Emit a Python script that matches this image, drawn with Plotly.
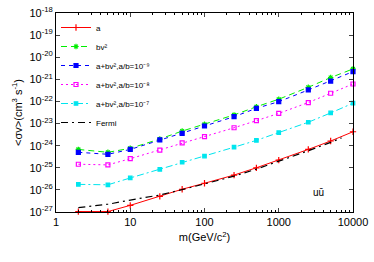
import plotly.graph_objects as go

mass = [2, 5, 10, 25, 50, 100, 250, 500, 1000, 2500, 5000, 10000]
sv_a = [-26.98, -26.98, -26.7, -26.29, -25.97, -25.70, -25.33, -25.0, -24.65, -24.17, -23.79, -23.37]
sv_bv2 = [-24.17, -24.30, -24.12, -23.70, -23.34, -23.03, -22.61, -22.24, -21.90, -21.36, -20.92, -20.53]
sv_e9 = [-24.30, -24.39, -24.17, -23.74, -23.44, -23.11, -22.69, -22.31, -22.01, -21.48, -21.08, -20.65]
sv_e8 = [-24.84, -24.87, -24.59, -24.20, -23.87, -23.59, -23.19, -22.87, -22.54, -22.05, -21.63, -21.21]
sv_e7 = [-25.75, -25.77, -25.46, -25.07, -24.75, -24.47, -24.07, -23.76, -23.41, -22.94, -22.52, -22.08]
fermi_mass = [2, 5, 10, 25, 50, 100, 250, 500, 1000, 2500, 5000, 7000]
sv_fermi = [-26.8, -26.65, -26.46, -26.23, -25.99, -25.73, -25.38, -25.06, -24.71, -24.23, -23.85, -23.65]

x_ticks = [1, 10, 100, 1000, 10000]
x_labels = ["1", "10", "100", "1000", "10000"]
y_exps = list(range(-27, -17))

FONT = "Liberation Sans, Arial, sans-serif"

def pw(v):
    return [10 ** e for e in v]

series = [
    ("a", mass, sv_a, "#ff0000", "solid", "cross-thin-open", 4.5, 1),
    ("bv²", mass, sv_bv2, "#00ee00", "6px,4px", "asterisk-open", 4.5, 1),
    ("a+bv²,a/b=10⁻⁹", mass, sv_e9, "#0000ff", "4px,4px", "square", 4, 1),
    ("a+bv²,a/b=10⁻⁸", mass, sv_e8, "#ff00ff", "2px,3px", "square-open", 4, 1),
    ("a+bv²,a/b=10⁻⁷", mass, sv_e7, "#00e5ee", "7px,3px,2px,3px", "square", 3.5, 1),
]

fig = go.Figure()
for name, xs, ys, col, dash, sym, ms, lw in series:
    fig.add_trace(go.Scatter(
        x=xs, y=pw(ys), name=name, mode="lines+markers", cliponaxis=False,
        line=dict(color=col, dash=dash, width=lw),
        marker=dict(symbol=sym, size=ms, color=col, line=dict(color=col, width=1.2)),
    ))
fig.add_trace(go.Scatter(
    x=fermi_mass, y=pw(sv_fermi), name="Fermi", mode="lines",
    line=dict(color="#000000", dash="7px,4px,2px,4px", width=1.2),
))

fig.add_annotation(x=3.54, y=-26.1, xref="x", yref="y", text="uū", showarrow=False,
                   font=dict(size=10, color="#000", family=FONT))

fig.update_layout(
    width=374, height=262,
    margin=dict(l=56, r=21, t=13, b=50),
    paper_bgcolor="white", plot_bgcolor="white",
    font=dict(family=FONT, size=11, color="#000"),
    showlegend=True,
    legend=dict(x=0.0, y=1.0, xanchor="left", yanchor="top",
                bgcolor="rgba(0,0,0,0)", font=dict(size=8, family=FONT),
                itemwidth=30, tracegroupgap=0, borderwidth=0),
    xaxis=dict(type="log", range=[0, 4], tickvals=x_ticks, ticktext=x_labels,
               ticks="inside", ticklen=4, mirror="allticks", showline=True, automargin=False,
               linecolor="#000", linewidth=1, showgrid=False, zeroline=False,
               minor=dict(ticks="inside", ticklen=2, showgrid=False, dtick="D1", tickcolor="#000"),
               tickfont=dict(size=11),
               title=dict(text="m(GeV/c<sup>2</sup>)", font=dict(size=11), standoff=6)),
    yaxis=dict(type="log", range=[-27, -18], tickvals=[10 ** e for e in y_exps],
               ticktext=["10<sup>%d</sup>" % e for e in y_exps],
               ticks="inside", ticklen=4, mirror="allticks", showline=True, automargin=False,
               linecolor="#000", linewidth=1, showgrid=False, zeroline=False,
               tickfont=dict(size=11),
               title=dict(text="<σv>(cm<sup>3</sup> s<sup>-1</sup>)", font=dict(size=11), standoff=4)),
)

fig.write_html("out.html", config={"displayModeBar": False},
               post_script="document.body.style.margin='0';")
